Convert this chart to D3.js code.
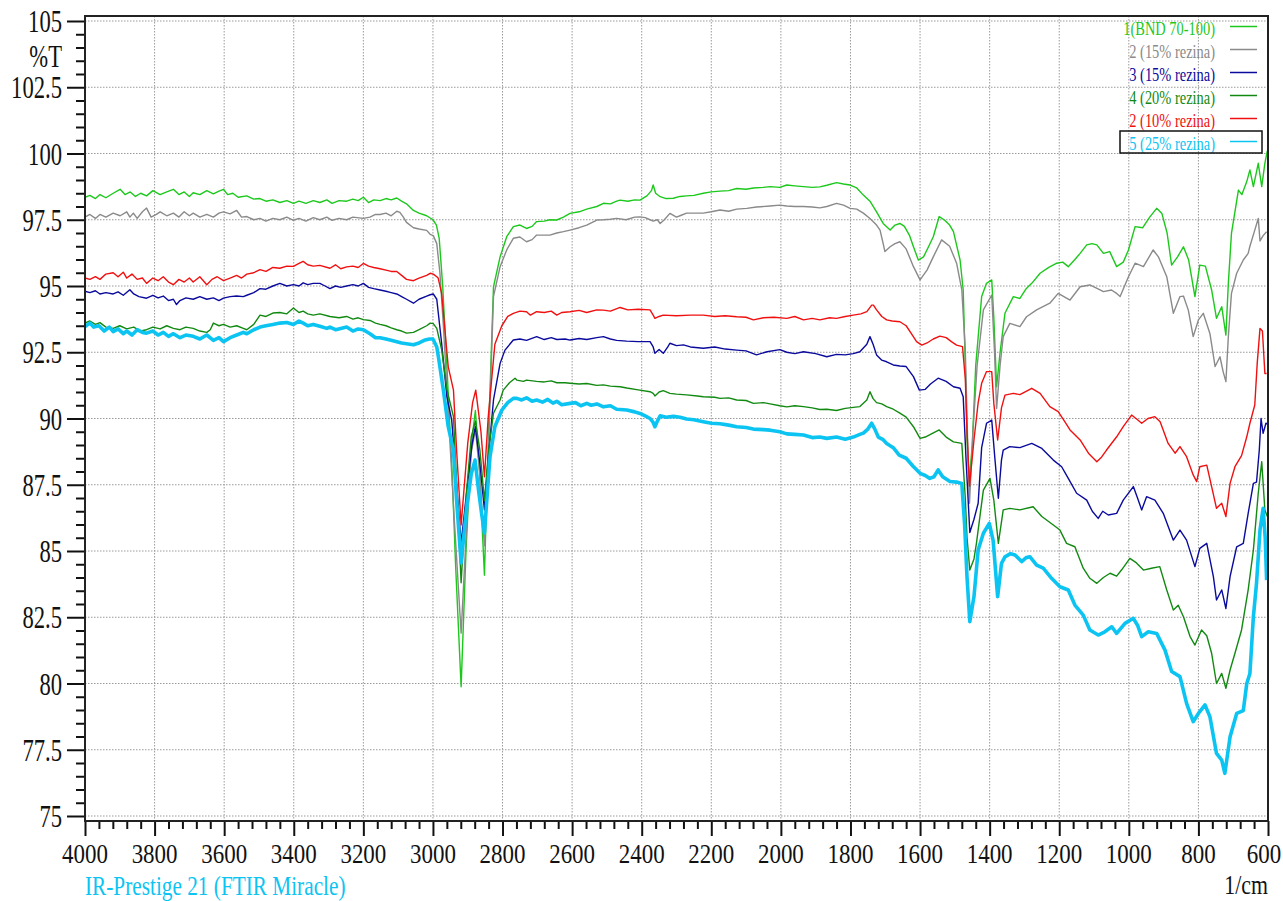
<!DOCTYPE html>
<html><head><meta charset="utf-8">
<script src="https://cdn.jsdelivr.net/npm/d3@7"></script>
<style>html,body{margin:0;padding:0;background:#fff;overflow:hidden}svg{display:block}</style>
</head><body>
<script>
// ---------- DATA (wavenumber 1/cm, %T) ----------
const xTicks = [4000,3800,3600,3400,3200,3000,2800,2600,2400,2200,2000,1800,1600,1400,1200,1000,800,600];
const yTicks = [105,102.5,100,97.5,95,92.5,90,87.5,85,82.5,80,77.5,75];
const seriesNames = ["1(BND 70-100)","2 (15% rezina)","3 (15% rezina)","4 (20% rezina)","2 (10% rezina)","5 (25% rezina)"];
const seriesColors = ["#1cc81c","#8a8a8a","#0a0a9c","#128a12","#f01010","#0cc4f2"];

const sBND = [[4000,98.35],[3986,98.42],[3970,98.30],[3957,98.45],[3940,98.33],[3919,98.5],[3899,98.65],[3885,98.45],[3870,98.55],[3855,98.38],[3840,98.5],[3823,98.4],[3805,98.6],[3784,98.45],[3765,98.55],[3746,98.65],[3730,98.45],[3715,98.55],[3700,98.38],[3689,98.52],[3670,98.45],[3650,98.6],[3631,98.48],[3615,98.58],[3602,98.65],[3590,98.45],[3575,98.5],[3560,98.35],[3535,98.4],[3515,98.28],[3497,98.3],[3480,98.2],[3460,98.25],[3440,98.15],[3420,98.22],[3401,98.12],[3385,98.2],[3365,98.12],[3344,98.22],[3325,98.15],[3305,98.25],[3290,98.12],[3270,98.22],[3248,98.2],[3230,98.28],[3215,98.22],[3200,98.35],[3185,98.15],[3170,98.25],[3152,98.22],[3135,98.3],[3120,98.25],[3104,98.32],[3090,98.2],[3076,98.1],[3056,97.85],[3040,97.75],[3018,97.65],[3000,97.5],[2990,97.3],[2982,96.8],[2972,95.0],[2960,92.0],[2945,88.0],[2935,84.5],[2919,79.88],[2905,85.0],[2890,89.0],[2878,90.3],[2866,88.0],[2852,84.09],[2840,89.5],[2826,94.97],[2807,96.1],[2788,96.86],[2769,97.24],[2750,97.3],[2731,97.17],[2715,97.25],[2702,97.43],[2680,97.45],[2664,97.5],[2644,97.49],[2625,97.6],[2606,97.74],[2580,97.8],[2558,97.9],[2529,98.0],[2510,98.12],[2490,98.1],[2472,98.2],[2462,98.24],[2440,98.2],[2420,98.25],[2405,98.24],[2385,98.4],[2372,98.6],[2367,98.81],[2360,98.5],[2347,98.37],[2330,98.3],[2309,98.31],[2290,98.38],[2271,98.4],[2250,98.42],[2223,98.5],[2200,98.55],[2175,98.58],[2150,98.6],[2127,98.68],[2100,98.65],[2079,98.7],[2050,98.72],[2031,98.75],[2003,98.72],[1983,98.81],[1960,98.78],[1935,98.75],[1910,98.72],[1888,98.74],[1868,98.8],[1840,98.9],[1820,98.85],[1801,98.81],[1782,98.7],[1763,98.43],[1744,98.2],[1725,97.8],[1706,97.36],[1686,97.11],[1672,97.3],[1658,97.36],[1645,97.25],[1630,96.9],[1619,96.48],[1605,95.98],[1590,96.1],[1575,96.5],[1562,96.86],[1545,97.62],[1530,97.49],[1515,97.3],[1504,97.05],[1485,95.98],[1476,94.85],[1470,92.0],[1465,89.2],[1459,87.6],[1450,89.0],[1440,92.0],[1423,94.6],[1409,95.1],[1394,95.23],[1388,93.8],[1380,91.2],[1370,92.5],[1356,93.97],[1332,94.6],[1313,94.53],[1295,94.9],[1279,95.1],[1255,95.48],[1230,95.7],[1207,95.86],[1190,95.9],[1174,95.73],[1155,96.0],[1140,96.23],[1121,96.55],[1106,96.6],[1092,96.55],[1073,96.23],[1055,96.3],[1035,95.73],[1016,95.9],[1001,96.36],[982,97.24],[960,97.2],[940,97.6],[920,97.93],[905,97.74],[890,97.0],[877,95.79],[860,96.1],[843,96.48],[828,95.98],[810,94.6],[796,95.79],[780,95.75],[762,94.85],[748,93.78],[733,94.22],[721,93.15],[714,95.1],[705,96.99],[685,98.62],[675,98.45],[661,98.94],[652,99.38],[642,98.75],[628,99.63],[618,98.75],[609,99.63],[602,100.1]];

const s15a = [[4000,97.6],[3986,97.7],[3970,97.55],[3957,97.7],[3940,97.6],[3919,97.75],[3899,97.65],[3880,97.8],[3871,97.6],[3861,97.75],[3850,97.55],[3835,97.8],[3823,97.94],[3810,97.6],[3795,97.7],[3784,97.8],[3765,97.65],[3746,97.75],[3730,97.6],[3715,97.8],[3700,97.65],[3689,97.75],[3670,97.6],[3650,97.7],[3631,97.6],[3615,97.75],[3602,97.8],[3583,97.72],[3564,97.85],[3550,97.6],[3535,97.62],[3515,97.5],[3497,97.55],[3480,97.45],[3460,97.55],[3440,97.5],[3420,97.6],[3401,97.48],[3385,97.55],[3365,97.45],[3344,97.58],[3325,97.5],[3305,97.6],[3290,97.48],[3270,97.55],[3248,97.5],[3230,97.6],[3200,97.55],[3181,97.6],[3165,97.7],[3152,97.7],[3135,97.75],[3120,97.65],[3104,97.82],[3095,97.78],[3085,97.6],[3076,97.4],[3056,97.2],[3040,97.15],[3018,97.1],[3008,96.95],[2999,96.9],[2989,96.6],[2980,95.5],[2970,93.5],[2955,90.0],[2940,86.5],[2919,81.9],[2905,85.5],[2890,88.7],[2878,89.6],[2866,88.0],[2852,85.2],[2840,89.0],[2826,94.6],[2807,95.73],[2788,96.36],[2769,96.8],[2750,96.85],[2731,96.67],[2715,96.75],[2702,96.92],[2680,96.92],[2664,96.92],[2644,97.0],[2625,97.05],[2606,97.11],[2580,97.2],[2558,97.3],[2529,97.49],[2510,97.5],[2490,97.52],[2472,97.55],[2445,97.5],[2420,97.6],[2405,97.61],[2390,97.58],[2376,97.5],[2367,97.45],[2355,97.5],[2347,97.36],[2335,97.5],[2319,97.74],[2300,97.6],[2290,97.65],[2271,97.75],[2250,97.75],[2223,97.75],[2200,97.8],[2175,97.87],[2150,97.82],[2127,97.9],[2098,97.93],[2070,97.98],[2031,98.02],[2003,98.05],[1983,98.02],[1960,98.0],[1935,98.0],[1910,97.98],[1888,97.95],[1868,98.0],[1840,98.12],[1820,98.05],[1801,97.93],[1782,97.9],[1763,97.75],[1744,97.55],[1725,97.3],[1715,97.11],[1706,96.6],[1701,96.3],[1686,96.48],[1672,96.6],[1658,96.67],[1640,96.4],[1619,95.73],[1600,95.23],[1580,95.6],[1562,96.1],[1538,96.74],[1515,96.5],[1495,95.86],[1480,94.85],[1470,92.6],[1463,89.0],[1458,86.8],[1448,89.5],[1436,92.0],[1418,94.1],[1394,94.66],[1386,92.5],[1380,90.38],[1370,92.0],[1361,93.09],[1342,93.59],[1313,93.47],[1294,93.84],[1265,94.1],[1227,94.35],[1203,94.72],[1169,94.47],[1140,94.97],[1112,95.04],[1090,94.9],[1073,94.79],[1050,94.85],[1035,94.72],[1025,94.6],[1001,95.35],[982,95.86],[958,95.73],[930,96.36],[915,96.1],[891,95.35],[872,93.97],[853,94.6],[843,94.62],[829,94.09],[815,93.09],[800,93.72],[786,93.97],[767,93.21],[752,91.96],[738,92.33],[729,91.77],[721,91.39],[714,93.09],[705,94.72],[690,95.48],[671,95.98],[657,96.23],[652,96.5],[638,97.11],[628,97.55],[623,96.7],[614,96.9],[604,97.05]];

const s15b = [[4000,94.8],[3986,94.75],[3970,94.82],[3957,94.7],[3940,94.75],[3919,94.7],[3905,94.78],[3890,94.65],[3871,94.86],[3860,94.7],[3845,94.6],[3823,94.54],[3805,94.65],[3790,94.55],[3775,94.62],[3760,94.45],[3746,94.5],[3737,94.3],[3727,94.45],[3710,94.55],[3689,94.5],[3670,94.6],[3650,94.5],[3631,94.55],[3615,94.45],[3602,94.54],[3583,94.6],[3564,94.62],[3545,94.6],[3535,94.65],[3515,94.75],[3497,94.9],[3480,94.88],[3460,95.0],[3440,95.1],[3420,95.0],[3401,95.05],[3385,95.0],[3373,95.12],[3360,95.05],[3344,95.1],[3325,95.1],[3310,95.0],[3296,94.9],[3280,95.0],[3265,94.95],[3248,95.0],[3230,95.05],[3215,95.0],[3200,95.1],[3185,94.95],[3170,94.9],[3152,94.85],[3135,94.8],[3120,94.75],[3104,94.7],[3090,94.6],[3076,94.5],[3056,94.35],[3040,94.5],[3018,94.62],[3008,94.67],[2999,94.7],[2989,94.5],[2975,92.84],[2960,90.82],[2946,89.94],[2936,88.2],[2919,85.3],[2900,87.6],[2888,89.0],[2878,89.7],[2865,88.3],[2852,86.55],[2841,88.5],[2826,90.7],[2807,92.08],[2793,92.58],[2769,92.96],[2750,93.0],[2731,92.95],[2702,93.09],[2680,92.98],[2660,93.05],[2644,92.98],[2620,93.0],[2606,92.96],[2580,93.02],[2558,92.98],[2529,93.05],[2510,93.09],[2490,93.0],[2472,92.95],[2443,92.92],[2410,92.9],[2376,92.9],[2367,92.7],[2362,92.46],[2350,92.6],[2338,92.46],[2325,92.7],[2319,92.84],[2300,92.75],[2280,92.78],[2260,92.7],[2223,92.65],[2190,92.7],[2160,92.62],[2127,92.58],[2100,92.55],[2070,92.4],[2040,92.52],[2003,92.6],[1983,92.5],[1960,92.45],[1935,92.52],[1900,92.45],[1868,92.33],[1840,92.42],[1815,92.4],[1792,92.45],[1773,92.52],[1753,92.8],[1744,93.09],[1735,92.8],[1725,92.4],[1710,92.2],[1696,92.14],[1677,92.02],[1658,91.98],[1640,91.96],[1619,91.58],[1602,91.07],[1585,91.1],[1570,91.3],[1548,91.52],[1525,91.4],[1504,91.2],[1485,91.14],[1476,90.82],[1468,88.5],[1457,85.7],[1445,86.2],[1433,86.8],[1423,88.9],[1409,89.82],[1394,89.94],[1385,88.5],[1375,86.99],[1366,88.43],[1361,88.81],[1342,88.94],[1313,88.9],[1279,89.06],[1250,88.87],[1217,88.43],[1193,88.18],[1174,87.74],[1150,87.18],[1121,86.92],[1105,86.5],[1088,86.23],[1075,86.5],[1059,86.36],[1035,86.42],[1016,86.92],[987,87.43],[975,87.0],[963,86.55],[949,87.05],[925,86.92],[901,86.42],[872,85.41],[853,85.79],[834,85.41],[810,84.41],[796,85.1],[776,85.29],[757,84.03],[748,83.15],[733,83.53],[721,82.83],[709,84.03],[690,85.16],[671,85.29],[657,86.42],[642,87.55],[633,87.6],[625,88.81],[620,90.0],[614,89.44],[606,89.82],[602,89.8]];

const s20 = [[4000,93.6],[3986,93.68],[3970,93.55],[3957,93.62],[3940,93.45],[3919,93.4],[3900,93.5],[3880,93.38],[3860,93.45],[3840,93.3],[3823,93.35],[3805,93.45],[3784,93.38],[3765,93.5],[3746,93.4],[3727,93.35],[3710,93.45],[3689,93.4],[3670,93.3],[3650,93.25],[3640,93.35],[3631,93.6],[3615,93.5],[3602,93.55],[3583,93.45],[3564,93.5],[3545,93.4],[3535,93.35],[3515,93.55],[3497,93.9],[3480,93.85],[3460,93.98],[3440,94.0],[3420,93.95],[3401,94.17],[3385,94.0],[3373,94.05],[3360,93.95],[3344,93.9],[3325,93.95],[3296,93.85],[3270,93.8],[3248,93.85],[3230,93.75],[3215,93.8],[3200,93.73],[3181,93.7],[3165,93.6],[3152,93.55],[3135,93.5],[3120,93.42],[3104,93.35],[3090,93.3],[3076,93.22],[3056,93.25],[3040,93.35],[3018,93.5],[3008,93.6],[2999,93.58],[2989,93.4],[2975,92.6],[2960,91.1],[2941,90.07],[2930,87.0],[2919,83.8],[2905,87.0],[2890,89.3],[2878,89.9],[2865,88.8],[2852,86.9],[2840,88.8],[2826,90.2],[2807,90.7],[2798,91.07],[2780,91.35],[2764,91.52],[2759,91.45],[2740,91.4],[2731,91.45],[2702,91.4],[2680,91.38],[2660,91.42],[2644,91.35],[2620,91.35],[2606,91.33],[2580,91.3],[2558,91.32],[2529,91.25],[2510,91.27],[2490,91.22],[2462,91.2],[2443,91.15],[2410,91.08],[2376,91.01],[2367,90.95],[2362,90.85],[2350,91.0],[2338,91.05],[2319,90.95],[2300,90.92],[2271,90.89],[2240,90.85],[2223,90.82],[2190,90.8],[2175,90.76],[2150,90.78],[2127,90.7],[2100,90.68],[2079,90.57],[2050,90.6],[2031,90.55],[2003,90.48],[1983,90.44],[1960,90.48],[1935,90.45],[1910,90.4],[1888,90.34],[1868,90.35],[1840,90.3],[1815,90.38],[1792,90.42],[1773,90.45],[1753,90.7],[1744,91.01],[1735,90.75],[1725,90.6],[1710,90.55],[1696,90.45],[1677,90.35],[1658,90.2],[1640,90.05],[1619,89.69],[1600,89.25],[1585,89.3],[1570,89.4],[1545,89.57],[1525,89.3],[1504,89.12],[1480,89.06],[1470,87.0],[1465,85.5],[1457,84.28],[1445,84.7],[1438,85.29],[1428,86.3],[1418,87.3],[1399,87.74],[1388,86.92],[1375,85.29],[1361,86.55],[1342,86.61],[1313,86.55],[1275,86.67],[1250,86.3],[1217,85.98],[1198,85.79],[1179,85.29],[1155,85.16],[1131,84.35],[1112,83.97],[1092,83.78],[1073,84.0],[1054,84.16],[1035,84.05],[1020,84.3],[997,84.72],[978,84.55],[958,84.28],[935,84.35],[911,84.41],[891,83.53],[872,82.77],[858,82.95],[843,82.52],[824,81.77],[810,81.45],[791,82.02],[776,81.8],[762,81.14],[748,80.0],[733,80.38],[721,79.82],[709,80.51],[695,81.14],[676,82.02],[657,83.53],[642,85.04],[628,87.18],[618,88.37],[609,86.55],[602,86.3]];

const s10 = [[4000,95.3],[3986,95.25],[3970,95.35],[3957,95.25],[3940,95.45],[3919,95.5],[3905,95.35],[3890,95.52],[3880,95.3],[3865,95.45],[3850,95.25],[3835,95.3],[3823,95.1],[3805,95.3],[3790,95.2],[3775,95.35],[3760,95.15],[3746,95.05],[3730,95.25],[3715,95.15],[3700,95.3],[3689,95.15],[3670,95.35],[3650,95.05],[3635,95.25],[3620,95.35],[3602,95.2],[3583,95.3],[3564,95.4],[3550,95.3],[3535,95.45],[3515,95.5],[3497,95.62],[3480,95.55],[3460,95.7],[3440,95.67],[3420,95.75],[3401,95.74],[3385,95.85],[3373,95.93],[3360,95.8],[3344,95.75],[3325,95.78],[3296,95.67],[3280,95.8],[3265,95.65],[3248,95.72],[3230,95.75],[3215,95.7],[3200,95.85],[3185,95.75],[3170,95.7],[3152,95.65],[3135,95.6],[3120,95.55],[3104,95.55],[3090,95.4],[3076,95.25],[3056,95.2],[3040,95.3],[3018,95.4],[3008,95.48],[2999,95.45],[2989,95.35],[2985,95.3],[2975,94.72],[2956,91.95],[2941,91.07],[2932,88.8],[2919,85.98],[2900,89.06],[2886,90.6],[2877,91.07],[2862,89.5],[2852,87.8],[2841,90.07],[2822,92.8],[2802,93.5],[2785,93.85],[2769,93.97],[2750,94.05],[2731,94.03],[2720,93.9],[2702,94.03],[2680,94.0],[2660,94.05],[2644,93.9],[2630,94.0],[2606,94.03],[2580,94.08],[2558,94.0],[2529,94.1],[2510,94.09],[2490,94.05],[2462,94.19],[2440,94.1],[2410,94.12],[2376,94.1],[2367,93.9],[2362,93.78],[2350,93.85],[2338,93.9],[2300,93.88],[2260,93.9],[2223,93.9],[2190,93.85],[2160,93.88],[2127,93.84],[2100,93.82],[2079,93.72],[2050,93.8],[2020,93.82],[1983,93.78],[1960,93.85],[1935,93.72],[1910,93.78],[1888,93.72],[1860,93.8],[1840,93.78],[1815,93.85],[1792,93.9],[1770,93.95],[1753,94.03],[1739,94.28],[1734,94.28],[1725,94.1],[1710,93.85],[1696,93.72],[1680,93.68],[1658,93.65],[1640,93.5],[1625,93.2],[1610,92.9],[1595,92.77],[1580,92.85],[1562,93.0],[1543,93.11],[1525,93.05],[1510,92.9],[1495,92.77],[1478,92.71],[1470,91.5],[1465,89.5],[1458,87.45],[1445,89.2],[1433,90.6],[1423,91.33],[1409,91.77],[1394,91.77],[1388,90.57],[1377,89.19],[1366,90.4],[1356,90.88],[1332,90.95],[1313,90.9],[1279,91.14],[1255,90.95],[1227,90.45],[1203,90.26],[1185,89.9],[1169,89.57],[1140,89.19],[1116,88.69],[1092,88.37],[1078,88.55],[1064,88.81],[1035,89.31],[1016,89.69],[992,90.13],[975,89.95],[963,89.82],[945,90.0],[925,90.07],[910,89.88],[887,89.06],[867,88.69],[853,88.94],[834,88.56],[815,87.87],[805,87.62],[796,88.18],[776,88.24],[762,87.43],[748,86.61],[733,86.8],[721,86.3],[709,87.55],[695,88.18],[676,88.6],[661,89.31],[652,89.82],[638,90.51],[631,92.08],[623,93.4],[616,93.3],[609,91.7],[604,91.7]];

const s25 = [[4000,93.47],[3986,93.6],[3975,93.45],[3960,93.5],[3945,93.3],[3930,93.45],[3919,93.28],[3905,93.38],[3890,93.2],[3880,93.3],[3865,93.15],[3850,93.35],[3835,93.25],[3823,93.22],[3805,93.3],[3790,93.15],[3775,93.25],[3760,93.1],[3746,93.2],[3727,93.05],[3710,93.15],[3689,93.1],[3670,93.0],[3650,93.15],[3631,92.95],[3615,93.05],[3602,92.9],[3583,93.05],[3564,93.15],[3545,93.25],[3535,93.2],[3515,93.35],[3497,93.45],[3480,93.5],[3460,93.55],[3440,93.6],[3420,93.62],[3401,93.55],[3385,93.68],[3373,93.6],[3360,93.5],[3344,93.55],[3325,93.48],[3305,93.4],[3296,93.45],[3280,93.35],[3265,93.4],[3248,93.45],[3230,93.3],[3215,93.38],[3200,93.35],[3181,93.2],[3165,93.05],[3152,93.05],[3135,93.0],[3120,92.95],[3104,92.9],[3090,92.85],[3076,92.82],[3056,92.78],[3040,92.85],[3025,92.95],[3010,93.0],[3000,93.0],[2989,92.7],[2984,92.3],[2970,91.07],[2956,89.69],[2941,88.8],[2932,86.9],[2919,84.55],[2905,86.4],[2890,87.9],[2879,88.43],[2868,87.2],[2860,86.4],[2852,85.68],[2836,88.56],[2822,89.69],[2802,90.32],[2785,90.6],[2769,90.76],[2759,90.76],[2745,90.7],[2731,90.78],[2715,90.65],[2702,90.7],[2685,90.62],[2670,90.72],[2655,90.58],[2644,90.65],[2630,90.52],[2606,90.57],[2590,90.6],[2575,90.48],[2558,90.57],[2545,90.5],[2529,90.55],[2510,90.44],[2490,90.48],[2472,90.35],[2443,90.32],[2420,90.25],[2405,90.19],[2390,90.1],[2376,90.0],[2367,89.85],[2362,89.69],[2355,89.9],[2347,90.1],[2330,90.05],[2309,90.08],[2290,90.05],[2271,89.98],[2250,89.95],[2223,89.88],[2200,89.82],[2175,89.8],[2150,89.75],[2127,89.69],[2100,89.66],[2079,89.6],[2050,89.58],[2031,89.56],[2003,89.5],[1983,89.42],[1960,89.4],[1935,89.38],[1910,89.28],[1888,89.3],[1868,89.25],[1840,89.3],[1815,89.22],[1792,89.3],[1773,89.4],[1763,89.45],[1750,89.6],[1739,89.82],[1730,89.6],[1720,89.3],[1706,89.2],[1696,89.06],[1677,88.9],[1660,88.62],[1640,88.5],[1620,88.2],[1600,87.93],[1585,87.85],[1572,87.74],[1560,87.8],[1548,88.06],[1535,87.8],[1514,87.62],[1495,87.6],[1480,87.55],[1472,86.0],[1465,84.0],[1457,82.33],[1445,83.28],[1433,85.04],[1418,85.67],[1401,86.04],[1390,85.4],[1377,83.28],[1366,84.53],[1356,84.78],[1340,84.9],[1327,84.85],[1308,84.6],[1295,84.75],[1284,84.78],[1265,84.47],[1246,84.35],[1222,83.97],[1198,83.65],[1174,83.53],[1155,82.96],[1131,82.58],[1112,82.02],[1088,81.83],[1069,81.95],[1049,82.14],[1035,81.89],[1011,82.27],[987,82.46],[975,82.2],[963,81.77],[944,81.95],[920,81.89],[896,81.26],[877,80.45],[853,80.26],[834,79.25],[815,78.56],[800,78.87],[781,79.19],[767,78.75],[748,77.36],[733,77.11],[724,76.61],[709,77.99],[690,78.87],[671,78.98],[661,80.0],[652,80.38],[642,82.52],[633,83.78],[623,85.79],[614,86.61],[608,85.5],[604,83.9]];

const seriesData = [sBND, s15a, s15b, s20, s10, s25];
const seriesWidths = [1.4, 1.4, 1.4, 1.4, 1.4, 3.6];

// ---------- CHART ----------
const W = 1283, H = 901;
const L = 85, R = 1268, T = 16, B = 821;
const x = d3.scaleLinear().domain([4000, 600]).range([L, R]);
const y = d3.scaleLinear().domain([75, 105]).range([816, 21]);
const FONT = "Liberation Serif, DejaVu Serif, serif";

const svg = d3.select("body").append("svg").attr("width", W).attr("height", H);

svg.append("defs").append("clipPath").attr("id", "clip")
  .append("rect").attr("x", L).attr("y", T).attr("width", R - L).attr("height", B - T);

// grid
const grid = svg.append("g");
grid.selectAll(".hg").data(yTicks).join("line")
  .attr("x1", L).attr("x2", R).attr("y1", d => y(d)).attr("y2", d => y(d))
  .attr("stroke", "#9a9a9a").attr("stroke-width", 1).attr("stroke-dasharray", "1.5,1.5");
grid.selectAll(".vg").data(xTicks.slice(1, -1)).join("line")
  .attr("x1", d => x(d)).attr("x2", d => x(d)).attr("y1", T).attr("y2", B)
  .attr("stroke", "#9a9a9a").attr("stroke-width", 1).attr("stroke-dasharray", "1.5,1.5");

// y ticks
const yMinor = d3.range(75, 105.001, 0.5).filter(v => Math.abs((v / 2.5) - Math.round(v / 2.5)) > 1e-6);
const yAxisMajor = d3.axisLeft(y).tickValues(yTicks).tickSize(18).tickFormat("");
const yAxisMinor = d3.axisLeft(y).tickValues(yMinor).tickSize(9).tickFormat("");
const gy1 = svg.append("g").attr("transform", `translate(${L},0)`).call(yAxisMajor);
const gy2 = svg.append("g").attr("transform", `translate(${L},0)`).call(yAxisMinor);
[gy1, gy2].forEach(g => { g.select(".domain").remove(); g.selectAll("line").attr("stroke", "#111").attr("stroke-width", 2); });

// x ticks
const xMinor = d3.range(600, 4000.001, 40).filter(v => v % 200 !== 0);
const xAxisMajor = d3.axisBottom(x).tickValues(xTicks).tickSize(15).tickFormat("");
const xAxisMinor = d3.axisBottom(x).tickValues(xMinor).tickSize(8).tickFormat("");
const gx1 = svg.append("g").attr("transform", `translate(0,${B})`).call(xAxisMajor);
const gx2 = svg.append("g").attr("transform", `translate(0,${B})`).call(xAxisMinor);
[gx1, gx2].forEach(g => { g.select(".domain").remove(); g.selectAll("line").attr("stroke", "#111").attr("stroke-width", 2); });

// condensed text helper
function ctext(parent, txt, px, py, size, sx, anchor, color) {
  return parent.append("text")
    .attr("transform", `translate(${px},${py}) scale(${sx},1)`)
    .attr("text-anchor", anchor).attr("font-family", FONT).attr("font-size", size)
    .attr("fill", color || "#111").text(txt);
}

// y labels
yTicks.forEach(v => ctext(svg, String(v), 62, y(v) + 11, 31, 0.73, "end"));
ctext(svg, "%T", 62, 67, 31, 0.73, "end");
// x labels (last one kept just inside the page edge)
xTicks.forEach(v => ctext(svg, String(v), Math.min(x(v), 1264), 863, 28, 0.82, "middle"));
ctext(svg, "1/cm", 1268, 894, 28, 0.78, "end");
ctext(svg, "IR-Prestige 21 (FTIR Miracle)", 85, 895, 28, 0.76, "start", "#0cc4f2");

// series
const line = d3.line().x(d => x(d[0])).y(d => y(d[1]));
const plot = svg.append("g").attr("clip-path", "url(#clip)");
seriesData.forEach((s, i) => {
  plot.append("path").datum(s).attr("d", line)
    .attr("fill", "none").attr("stroke", seriesColors[i])
    .attr("stroke-width", seriesWidths[i]).attr("stroke-linejoin", "round");
});

// frame
svg.append("rect").attr("x", L).attr("y", T).attr("width", R - L).attr("height", B - T)
  .attr("fill", "none").attr("stroke", "#222").attr("stroke-width", 2);

// legend
const leg = svg.append("g");
seriesNames.forEach((n, i) => {
  const by = 34.5 + 23 * i;
  ctext(leg, n, 1215, by, 19, 0.76, "end", seriesColors[i]);
  leg.append("line").attr("x1", 1230).attr("x2", 1257).attr("y1", by - 8).attr("y2", by - 8)
    .attr("stroke", seriesColors[i]).attr("stroke-width", 1.5);
});
leg.append("rect").attr("x", 1120).attr("y", 131).attr("width", 142).attr("height", 22)
  .attr("fill", "none").attr("stroke", "#111").attr("stroke-width", 1.5);
</script>
</body></html>
